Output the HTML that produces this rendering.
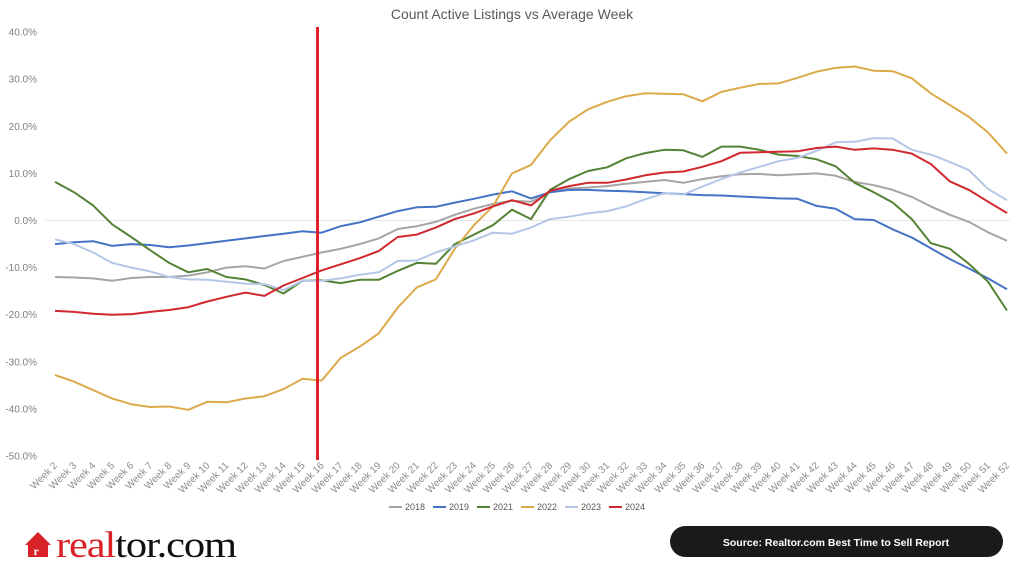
<!DOCTYPE html>
<html><head><meta charset="utf-8"><style>
body{margin:0;background:#fff;width:1024px;height:577px;overflow:hidden;font-family:"Liberation Sans",sans-serif}
</style></head><body>
<svg id="s" width="1024" height="577" xmlns="http://www.w3.org/2000/svg" style="position:absolute;left:0;top:0">
<text x="512" y="19" text-anchor="middle" font-size="14" fill="#595959" font-family="Liberation Sans">Count Active Listings vs Average Week</text>
<line x1="45" y1="220.5" x2="1010" y2="220.5" stroke="#e6e6e6" stroke-width="1"/>
<g id="g"></g>
<line x1="317.5" y1="27" x2="317.5" y2="460" stroke="#e0202a" stroke-width="3"/>
<g font-size="9" fill="#595959" font-family="Liberation Sans">
<line x1="389" y1="507" x2="402" y2="507" stroke="#a5a5a5" stroke-width="2"/><text x="405" y="510">2018</text>
<line x1="433" y1="507" x2="446" y2="507" stroke="#4472c4" stroke-width="2"/><text x="449" y="510">2019</text>
<line x1="477" y1="507" x2="490" y2="507" stroke="#548235" stroke-width="2"/><text x="493" y="510">2021</text>
<line x1="521" y1="507" x2="534" y2="507" stroke="#dcaa4a" stroke-width="2"/><text x="537" y="510">2022</text>
<line x1="565" y1="507" x2="578" y2="507" stroke="#b4c7e7" stroke-width="2"/><text x="581" y="510">2023</text>
<line x1="609" y1="507" x2="622" y2="507" stroke="#d0282e" stroke-width="2"/><text x="625" y="510">2024</text>
</g>
<rect x="670" y="526" width="333" height="31" rx="15.5" fill="#1a1a1a"/>
<text x="836" y="546" text-anchor="middle" font-size="10.5" font-weight="bold" fill="#fff" font-family="Liberation Sans">Source: Realtor.com Best Time to Sell Report</text>
<path d="M25 545 L38 532 L51 545 L48 545 L48 557 L28 557 L28 545 Z" fill="#d92228"/>
<text x="33.5" y="555" font-size="12" font-weight="bold" fill="#fff" font-family="Liberation Serif">r</text>
<text x="56" y="557" font-size="37" fill="#d92228" font-family="Liberation Serif" letter-spacing="-1" textLength="180" lengthAdjust="spacingAndGlyphs">real<tspan fill="#111">tor.com</tspan></text>
</svg>
<script>
const D={
"#a5a5a5":[-12,-12.1,-12.3,-12.8,-12.2,-12,-12,-11.7,-11,-10,-9.7,-10.2,-8.6,-7.7,-6.8,-6,-5,-3.8,-1.8,-1.2,-0.3,1.2,2.5,3.5,4.2,4.0,6,6.8,7.0,7.3,7.8,8.2,8.6,8.0,8.8,9.4,9.8,9.9,9.6,9.8,10.0,9.5,8.2,7.5,6.5,5,3,1.2,-0.3,-2.5,-4.3],
"#4472c4":[-5,-4.6,-4.4,-5.4,-5,-5.2,-5.7,-5.3,-4.8,-4.3,-3.8,-3.3,-2.8,-2.3,-2.6,-1.2,-0.4,0.8,2,2.8,2.9,3.8,4.6,5.5,6.2,4.7,6.0,6.5,6.5,6.3,6.2,6.0,5.8,5.6,5.4,5.3,5.1,4.9,4.7,4.6,3.1,2.5,0.3,0.1,-1.9,-3.6,-5.9,-8.2,-10.2,-12.3,-14.6],
"#548235":[8.2,6,3.2,-0.8,-3.5,-6.3,-9,-11,-10.3,-12,-12.5,-13.7,-15.5,-12.8,-12.7,-13.3,-12.6,-12.6,-10.7,-9,-9.2,-5,-3,-1,2.3,0.3,6.5,8.8,10.5,11.3,13.2,14.3,15,14.9,13.5,15.7,15.7,15,14,13.7,13,11.5,8,6,3.8,0.3,-4.8,-6,-9.2,-13,-19.1],
"#dcaa4a":[-32.8,-34.2,-36,-37.8,-39,-39.6,-39.5,-40.2,-38.5,-38.6,-37.8,-37.3,-35.8,-33.6,-34,-29.2,-26.8,-24,-18.5,-14.2,-12.5,-6,-1,3,10,11.8,17,21,23.6,25.2,26.4,27,26.9,26.8,25.3,27.3,28.2,29,29.1,30.3,31.6,32.4,32.7,31.8,31.7,30.2,27,24.5,22,18.7,14.2],
"#b4c7e7":[-4,-5,-6.8,-9,-10,-10.8,-12,-12.5,-12.6,-13,-13.4,-13.5,-14.8,-12.8,-12.8,-12.3,-11.5,-11,-8.6,-8.5,-6.8,-5.5,-4.2,-2.6,-2.8,-1.5,0.3,0.8,1.5,2,3,4.5,5.8,5.5,7.2,8.8,10.2,11.4,12.6,13.3,14.8,16.6,16.7,17.5,17.4,15,14,12.4,10.7,6.7,4.3],
"#d0282e":[-19.2,-19.4,-19.8,-20,-19.9,-19.4,-19,-18.4,-17.2,-16.2,-15.3,-16,-13.8,-12.2,-10.6,-9.3,-8,-6.5,-3.5,-3,-1.5,0.3,1.5,3,4.3,3.2,6.3,7.3,8,8,8.7,9.6,10.2,10.4,11.4,12.6,14.4,14.5,14.6,14.7,15.4,15.7,15,15.3,15,14.2,12,8.3,6.5,4,1.6]};
const X=i=>55+i*19.04, Y=v=>220.5-v*4.71;
let h='';
for(let k=0;k<10;k++){const v=40-k*10;h+=`<text x="37" y="${Y(v)+3.5}" text-anchor="end" font-size="10" fill="#7f7f7f">${v.toFixed(1)}%</text>`;}
for(const c in D){h+=`<polyline fill="none" stroke="${c}" stroke-width="2" stroke-linejoin="round" points="${D[c].map((v,i)=>X(i).toFixed(1)+','+Y(v).toFixed(1)).join(' ')}"/>`;}
for(let i=0;i<51;i++){const x=X(i)+3,y=466;h+=`<text transform="translate(${x},${y}) rotate(-45)" text-anchor="end" font-size="10" fill="#8c8c8c">Week ${i+2}</text>`;}
document.getElementById('g').innerHTML=h;
</script>
</body></html>
